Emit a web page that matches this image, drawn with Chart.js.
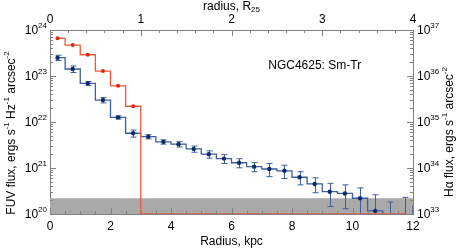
<!DOCTYPE html>
<html lang="en">
<head>
<meta charset="UTF-8">
<title>NGC4625 radial profile</title>
<script src="https://cdn.jsdelivr.net/npm/chart.js"></script>
<style>
  body { margin: 0; background: #fff; }
</style>
</head>
<body>
<canvas id="profileChart" width="458" height="251"></canvas>
<script>
// bin centres, kpc
const radius = [0.25, 0.75, 1.25, 1.75, 2.25, 2.75, 3.25, 3.75, 4.25, 4.75, 5.25, 5.75,
  6.25, 6.75, 7.25, 7.75, 8.25, 8.75, 9.25, 9.75, 10.25, 10.75, 11.25, 11.75, 12.25];

// FUV surface brightness, ergs s-1 Hz-1 arcsec-2
const fuvFlux = [2.5e23, 1.42e23, 6.9e22, 3.0e22, 1.26e22, 5.7e21, 4.8e21, 3.7e21, 3.3e21,
  2.6e21, 2.0e21, 1.6e21, 1.3e21, 1.07e21, 9.5e20, 8.7e20, 6.3e20, 4.5e20, 3.05e20, 2.8e20,
  2.2e20, 1.17e20, 3.7e19, 8e19, 1.5e20];
const fuvErr = [3.3e22, 2.3e22, 7e21, 4e21, 1e21, 1e21, 5e20, 4e20, 4.4e20, 4e20, 3.6e20,
  3.5e20, 2.9e20, 2.4e20, 3e20, 2.8e20, 2e20, 1.6e20, 1.6e20, 1.5e20, 1.5e20, 1.45e20,
  1.45e20, 1.5e20, null];

// Halpha surface brightness, ergs s-1 arcsec-2 (nothing detected past 3 kpc)
const haFlux = [6.6e36, 4.7e36, 2.9e36, 1.28e36, 6.1e35, 2.2e35, 1e33, 1e33, 1e33, 1e33,
  1e33, 1e33, 1e33, 1e33, 1e33, 1e33, 1e33, 1e33, 1e33, 1e33, 1e33, 1e33, 1e33, 1e33];

const fuvTicks = [1e20, 1e21, 1e22, 1e23, 1e24];
const haTicks = [1e33, 1e34, 1e35, 1e36, 1e37];
const r25 = 3;             // kpc per R25
const noiseLevel = 2.2e20; // shaded sky level

const blueLine = '#3d5f9e';
const bluePoint = '#0c2a68';
const redLine = '#f0583c';
const redPoint = '#e2280e';
const axisColor = '#808080';
const FONT = "'Liberation Sans', Arial, sans-serif";

function richText(ctx, parts, x, y) {
  const widths = parts.map(p => {
    ctx.font = (p.s ? 8 : 12) + 'px ' + FONT;
    return ctx.measureText(p.t).width;
  });
  let cx = x - widths.reduce((a, b) => a + b, 0) / 2;
  parts.forEach((p, i) => {
    ctx.font = (p.s ? 8 : 12) + 'px ' + FONT;
    ctx.fillText(p.t, cx, y + (p.s === 'sup' ? -5 : p.s === 'sub' ? 3 : 0));
    cx += widths[i];
  });
}

function powLabel(ctx, exp, x, y, alignRight) {
  ctx.font = '12px ' + FONT;
  const w1 = ctx.measureText('10').width;
  ctx.font = '8px ' + FONT;
  const w2 = ctx.measureText(exp).width;
  const start = alignRight ? x - w1 - w2 : x;
  ctx.font = '12px ' + FONT;
  ctx.fillText('10', start, y + 1);
  ctx.font = '8px ' + FONT;
  ctx.fillText(exp, start + w1, y - 4);
}

const frame = {
  id: 'frame',
  beforeDatasetsDraw(chart) {
    const { ctx, chartArea: a, scales: { x, y } } = chart;
    ctx.save();
    // sky noise band
    const yt = y.getPixelForValue(noiseLevel);
    ctx.fillStyle = '#a9a9a9';
    ctx.fillRect(a.left, yt, a.right - a.left, a.bottom - yt);
    // FUV error bars
    ctx.beginPath();
    ctx.rect(a.left, a.top, a.right - a.left, a.bottom - a.top);
    ctx.clip();
    ctx.beginPath();
    ctx.strokeStyle = blueLine;
    ctx.lineWidth = 1;
    fuvErr.forEach((e, i) => {
      if (e == null) return;
      const px = Math.round(x.getPixelForValue(radius[i])) + 0.5;
      const lo = fuvFlux[i] - e;
      const yHi = y.getPixelForValue(fuvFlux[i] + e);
      const yLo = lo > 0 ? y.getPixelForValue(lo) : a.bottom + 10;
      ctx.moveTo(px, yHi); ctx.lineTo(px, yLo);
      ctx.moveTo(px - 3, yHi); ctx.lineTo(px + 3, yHi);
      ctx.moveTo(px - 3, yLo); ctx.lineTo(px + 3, yLo);
    });
    ctx.stroke();
    ctx.restore();
  },
  afterDraw(chart) {
    const { ctx, chartArea: a, scales: { x, x2, y, y2 } } = chart;
    ctx.save();
    ctx.strokeStyle = axisColor;
    ctx.lineWidth = 1;
    ctx.beginPath();
    // bottom and top ticks, pointing inward
    for (let v = 0; v <= 12; v += 0.5) {
      const px = Math.round(x.getPixelForValue(v)) + 0.5;
      const len = v % 2 === 0 ? 6 : 3;
      ctx.moveTo(px, a.bottom); ctx.lineTo(px, a.bottom - len);
    }
    for (let i = 0; i <= 20; i++) {
      const px = Math.round(x2.getPixelForValue(i * 0.2)) + 0.5;
      const len = i % 5 === 0 ? 6 : 3;
      ctx.moveTo(px, a.top); ctx.lineTo(px, a.top + len);
    }
    // log ticks on both sides
    [[y, fuvTicks, a.left, 1], [y2, haTicks, a.right, -1]].forEach(([s, t, x0, dir]) => {
      t.forEach((d, k) => {
        for (let m = 1; m <= 9; m++) {
          if (k === t.length - 1 && m > 1) break;
          const py = Math.round(s.getPixelForValue(d * m)) + 0.5;
          const len = m === 1 ? 6 : 3;
          ctx.moveTo(x0, py); ctx.lineTo(x0 + dir * len, py);
        }
      });
    });
    ctx.stroke();

    ctx.fillStyle = '#000';
    ctx.textBaseline = 'middle';
    ctx.textAlign = 'left';
    fuvTicks.forEach(v => powLabel(ctx, String(Math.round(Math.log10(v))), a.left - 3, y.getPixelForValue(v), true));
    haTicks.forEach(v => powLabel(ctx, String(Math.round(Math.log10(v))), a.right + 4, y2.getPixelForValue(v), false));

    // axis titles
    const cxMid = (a.left + a.right) / 2;
    richText(ctx, [{ t: 'Radius, kpc' }], cxMid, 242);
    richText(ctx, [{ t: 'radius, R' }, { t: '25', s: 'sub' }], cxMid, 7);

    ctx.save();
    ctx.translate(12, 133);
    ctx.rotate(-Math.PI / 2);
    richText(ctx, [{ t: 'FUV flux, ergs s' }, { t: '-1', s: 'sup' }, { t: ' Hz' }, { t: '-1', s: 'sup' },
      { t: ' arcsec' }, { t: '-2', s: 'sup' }], 0, 0);
    ctx.restore();

    ctx.save();
    ctx.translate(450, 132);
    ctx.rotate(-Math.PI / 2);
    richText(ctx, [{ t: 'H\u03b1 flux, ergs s' }, { t: '-1', s: 'sup' }, { t: ' arcsec' }, { t: '-2', s: 'sup' }], 0, 0);
    ctx.restore();

    // galaxy label
    richText(ctx, [{ t: 'NGC4625: Sm-Tr' }], x.getPixelForValue(8.75), y.getPixelForValue(1.7e23));
    ctx.restore();
  }
};

const ctx = document.getElementById('profileChart').getContext('2d');
new Chart(ctx, {
  type: 'line',
  data: {
    datasets: [
      {
        label: 'Halpha',
        data: haFlux.map((v, i) => ({ x: radius[i], y: v })),
        yAxisID: 'y2',
        stepped: 'middle',
        borderColor: redLine,
        borderWidth: 1.3,
        pointRadius: c => (c.raw && c.raw.y > 1e33 ? 2 : 0),
        pointBackgroundColor: redPoint,
        pointBorderWidth: 0
      },
      {
        label: 'FUV',
        data: fuvFlux.map((v, i) => ({ x: radius[i], y: v })),
        yAxisID: 'y',
        stepped: 'middle',
        borderColor: blueLine,
        borderWidth: 1.3,
        pointRadius: 2.2,
        pointBackgroundColor: bluePoint,
        pointBorderWidth: 0
      }
    ]
  },
  options: {
    responsive: false,
    animation: false,
    layout: { padding: 0 },
    plugins: { legend: { display: false }, tooltip: { enabled: false } },
    scales: {
      x: {
        type: 'linear', position: 'bottom', min: 0, max: 12,
        grid: { display: false, drawTicks: false },
        border: { color: axisColor },
        ticks: { stepSize: 2, autoSkip: false, maxRotation: 0, padding: 5, color: '#000', font: { size: 12, family: FONT } },
        afterFit: s => { s.height = 37; }
      },
      x2: {
        type: 'linear', position: 'top', min: 0, max: 12 / r25,
        grid: { display: false, drawTicks: false },
        border: { color: axisColor },
        ticks: { stepSize: 1, autoSkip: false, maxRotation: 0, padding: 3, color: '#000', font: { size: 12, family: FONT } },
        afterFit: s => { s.height = 30; }
      },
      y: {
        type: 'logarithmic', position: 'left', min: 1e20, max: 1e24,
        grid: { display: false },
        border: { color: axisColor },
        ticks: { display: false },
        afterFit: s => { s.width = 50; }
      },
      y2: {
        type: 'logarithmic', position: 'right', min: 1e33, max: 1e37,
        grid: { display: false },
        border: { color: axisColor },
        ticks: { display: false },
        afterFit: s => { s.width = 45; }
      }
    }
  },
  plugins: [frame]
});
</script>
</body>
</html>
